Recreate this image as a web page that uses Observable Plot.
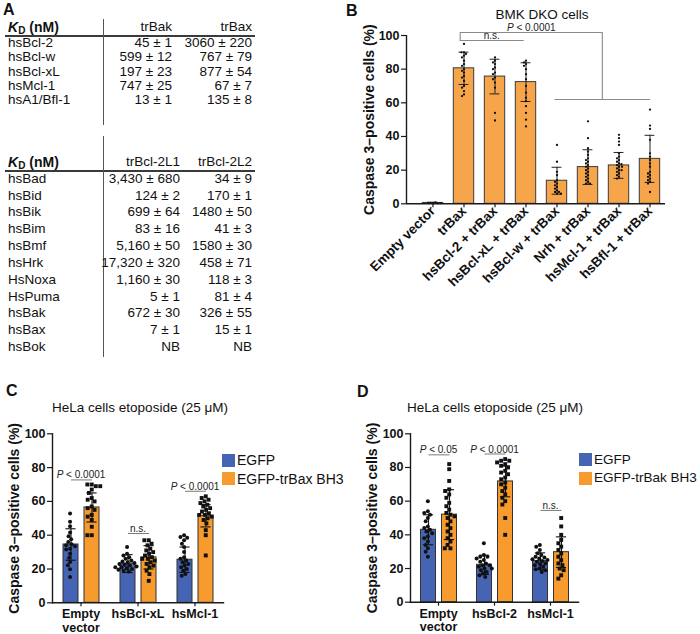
<!DOCTYPE html>
<html><head><meta charset="utf-8">
<script src="https://cdn.jsdelivr.net/npm/d3@7"></script>
<script src="https://cdn.jsdelivr.net/npm/@observablehq/plot@0.6"></script>
<style>
body{margin:0;background:#fff;font-family:"Liberation Sans",Arial,Helvetica,sans-serif;color:#111;}
#root{position:relative;width:700px;height:634px;overflow:hidden;background:#fff;}
.t{position:absolute;white-space:nowrap;}
.ln{position:absolute;background:#3a3a3a;}
svg text{font-family:"Liberation Sans",Arial,Helvetica,sans-serif;}
g[aria-label="y-axis tick label"] text, g[aria-label="fx-axis tick label"] text{font-weight:bold;font-size:12.5px;fill:#111;}
.pB g[aria-label="fx-axis tick label"] text{font-size:13.5px;}
g[aria-label="y-axis label"] text{font-weight:bold;font-size:14px;fill:#111;}
</style></head><body><div id="root"></div>
<script>
// ---------------- DATA ----------------
// Panel A tables
const a1Cols = ["trBak", "trBax"];
const a1Rows = ["hsBcl-2", "hsBcl-w", "hsBcl-xL", "hsMcl-1", "hsA1/Bfl-1"];
const a1Bak = ["45 ± 1", "599 ± 12", "197 ± 23", "747 ± 25", "13 ± 1"];
const a1Bax = ["3060 ± 220", "767 ± 79", "877 ± 54", "67 ± 7", "135 ± 8"];
const a2Cols = ["trBcl-2L1", "trBcl-2L2"];
const a2Rows = ["hsBad", "hsBid", "hsBik", "hsBim", "hsBmf", "hsHrk", "HsNoxa", "HsPuma", "hsBak", "hsBax", "hsBok"];
const a2L1 = ["3,430 ± 680", "124 ± 2", "699 ± 64", "83 ± 16", "5,160 ± 50", "17,320 ± 320", "1,160 ± 30", "5 ± 1", "672 ± 30", "7 ± 1", "NB"];
const a2L2 = ["34 ± 9", "170 ± 1", "1480 ± 50", "41 ± 3", "1580 ± 30", "458 ± 71", "118 ± 3", "81 ± 4", "326 ± 55", "15 ± 1", "NB"];

// Panel B
const bCategories = ["Empty vector", "trBax", "hsBcl-2 + trBax", "hsBcl-xL + trBax", "hsBcl-w + trBax", "Nrh + trBax", "hsMcl-1 + trBax", "hsBfl-1 + trBax"];
const bMeans = [0.5, 80.5, 75.6, 72.3, 13.7, 21.8, 22.8, 26.7];
const bSD = [0.4, 9.6, 10.3, 11.5, 8.0, 10.3, 7.7, 14.0];
const bPoints = [
  [0.2, 0.5, 0.8, 0.3, 0.6, 0.4],
  [95, 90, 90, 89, 88, 87, 85, 83, 82, 80, 79, 78, 76, 75, 73, 70, 69, 67, 65, 64],
  [87, 85, 84, 83, 81, 80, 78, 77, 75, 74, 72, 69, 54, 49.5],
  [85, 84, 83, 82, 80, 77, 74, 70, 66, 63, 61, 58, 54, 50, 46],
  [35, 25, 19, 17, 14, 13, 12, 11, 10, 9, 8, 7, 7, 6, 6],
  [49, 39, 33, 31, 29, 27, 26, 25, 24, 23, 22, 21, 20, 19, 18, 17, 16, 15, 14, 13, 12, 12],
  [41, 39, 37, 35, 30, 28, 27, 26, 25, 24, 23.5, 23, 22, 22, 21, 20, 20, 19, 18, 17, 16, 15],
  [56, 46.5, 44.5, 38, 30, 28, 26, 24, 22, 19, 18, 17, 16, 15, 14, 13, 12, 7]
];
const bTitle = "BMK DKO cells";
const bSigLabels = ["P < 0.0001", "n.s."];
const bSigLevels = [101.8, 97, 62]; // top bracket, n.s. bracket, lower bracket (in % units)

// Panel C
const cGroups = ["Empty\nvector", "hsBcl-xL", "hsMcl-1"];
const cSeries = ["EGFP", "EGFP-trBax BH3"];
const cMeansA = [34.5, 23.2, 25.5];
const cMeansB = [56.4, 26.9, 51.5];
const cSDA = [9.3, 5.3, 7.5];
const cSDB = [8.6, 6.9, 6.6];
const cPtsA = [
  [52.9, 47.9, 45.3, 41.6, 39.4, 37.6, 36, 34.7, 34, 33.5, 32, 31.5, 29, 26.7, 24.2, 22.2, 19.8, 15.2],
  [33, 29, 28, 27, 26, 25, 24.5, 24, 23.5, 23, 22.5, 22, 21.5, 21, 20.5, 20, 19.5, 19, 18.5, 21],
  [40, 39, 38.5, 37, 35, 33, 30, 27, 26, 25, 24, 23, 22, 21, 20, 19, 17, 16]
];
const cPtsB = [
  [70, 70, 69, 69, 67, 65, 62, 61, 60, 57, 56, 55, 52, 51, 49, 45, 40, 40],
  [37, 37, 35, 34, 32, 31, 30, 29, 28, 27, 26, 26, 25, 24, 23, 22, 21, 19, 17, 13],
  [63, 62, 61, 60, 59, 58, 57, 56, 55, 54, 53, 52, 52, 51, 50, 49, 47, 43, 40, 28]
];
const cSigLabels = ["P < 0.0001", "n.s.", "P < 0.0001"];
const cSigLevels = [72.7, 41, 66];
const cTitle = "HeLa cells etoposide (25 μM)";

// Panel D
const dGroups = ["Empty\nvector", "hsBcl-2", "hsMcl-1"];
const dSeries = ["EGFP", "EGFP-trBak BH3"];
const dMeansA = [43, 22.2, 24.4];
const dMeansB = [52, 71.7, 29.7];
const dSDA = [8.9, 5.7, 4.9];
const dSDB = [14.8, 9.1, 9.1];
const dPtsA = [
  [60, 54, 53, 52, 50, 48, 45, 44, 43, 42, 41, 39, 38, 36, 34, 32, 30, 27],
  [35, 28, 27, 27, 26, 25, 24, 23, 22, 22, 21, 20, 20, 19, 18, 17, 16, 15],
  [34, 33, 31, 29, 28, 27, 26.5, 26, 25.5, 25, 24.5, 24, 23, 22.5, 22, 21, 20, 19.5, 19, 18]
];
const dPtsB = [
  [82, 79, 72, 67, 66, 64, 62, 59, 57, 55, 53, 52, 51, 50, 48, 46, 44, 42, 40, 38, 36, 34, 32, 32],
  [85, 84, 84, 83, 82, 81, 80, 78, 77, 76, 74, 73, 71, 70, 68, 66, 64, 62, 60, 58, 50, 40],
  [50, 45, 40, 37, 35, 33, 31, 29, 27, 25, 23, 22, 20, 19, 16, 14]
];
const dSigLabels = ["P < 0.05", "P < 0.0001", "n.s."];
const dSigLevels = [87.5, 88, 54.5];
const dTitle = "HeLa cells etoposide (25 μM)";

const yTicks = [0, 20, 40, 60, 80, 100];
const yLabel = "Caspase 3–positive cells (%)";

// ---------------- STYLE ----------------
const BLUE = "#4664b4", ORANGE = "#f89b2e", ORANGE_B = "#f6a54b";
const AXIS = "#1a1a1a";
const plotStyle = {background: "transparent", fontFamily: '"Liberation Sans", Arial, sans-serif', fontSize: "12px", overflow: "visible", color: "#111"};

const root = document.getElementById("root");
function put(el, left, top, cls) {
  el.style.position = "absolute"; el.style.left = left + "px"; el.style.top = top + "px";
  if (cls) el.classList.add(cls);
  root.appendChild(el); return el;
}
function txt(s, {left, right, cy, size = 13.5, weight = "normal", lh = 12}) {
  const d = document.createElement("div");
  d.className = "t"; d.textContent = s;
  d.style.fontSize = size + "px"; d.style.fontWeight = weight;
  d.style.lineHeight = lh + "px"; d.style.height = lh + "px";
  d.style.top = (cy - lh / 2) + "px";
  if (right != null) { d.style.right = (700 - right) + "px"; d.style.textAlign = "right"; }
  else d.style.left = left + "px";
  root.appendChild(d); return d;
}
function centerTxt(s, {cx, cy, size, weight = "normal"}) {
  const d = document.createElement("div");
  d.className = "t"; d.textContent = s;
  d.style.fontSize = size + "px"; d.style.fontWeight = weight;
  d.style.lineHeight = "16px"; d.style.width = "300px"; d.style.textAlign = "center";
  d.style.left = (cx - 150) + "px"; d.style.top = (cy - 8) + "px";
  root.appendChild(d); return d;
}
function line(left, top, w, h, color) {
  const d = document.createElement("div"); d.className = "ln";
  Object.assign(d.style, {left: left + "px", top: top + "px", width: w + "px", height: h + "px"});
  if (color) d.style.background = color;
  root.appendChild(d);
}
function kdHeader(cy) {
  const d = document.createElement("div");
  d.className = "t"; d.style.left = "8px"; d.style.top = (cy - 6) + "px";
  d.style.lineHeight = "12px"; d.style.height = "12px"; d.style.fontSize = "14px"; d.style.fontWeight = "bold";
  const k = document.createElement("i"); k.textContent = "K";
  const sub = document.createElement("span"); sub.textContent = "D";
  sub.style.fontSize = "10px"; sub.style.lineHeight = "8px"; sub.style.verticalAlign = "-2px";
  d.append(k, sub, document.createTextNode(" (nM)"));
  root.appendChild(d);
}

// ---------------- PANEL LETTERS ----------------
txt("A", {left: 3, cy: 9.5, size: 16, weight: "bold", lh: 16});
txt("B", {left: 346, cy: 10.5, size: 16, weight: "bold", lh: 16});
txt("C", {left: 6, cy: 390.5, size: 16, weight: "bold", lh: 16});
txt("D", {left: 357, cy: 392, size: 16, weight: "bold", lh: 16});

// ---------------- PANEL A ----------------
function table(rows, cols, v1, v2, o) {
  kdHeader(o.headY);
  txt(cols[0], {right: o.c1, cy: o.headY, size: 13.5});
  txt(cols[1], {right: o.c2, cy: o.headY, size: 13.5});
  line(5, o.lineY, 250, 2);
  line(103, o.vTop, 1.3, o.vBot - o.vTop, "#555");
  rows.forEach((r, i) => {
    const cy = o.row0 + i * o.step;
    txt(r, {left: 8, cy});
    txt(v1[i], {right: o.c1, cy});
    txt(v2[i], {right: o.c2, cy});
  });
}
table(a1Rows, a1Cols, a1Bak, a1Bax, {headY: 27.2, lineY: 34.5, row0: 43, step: 14.3, c1: 172, c2: 252, vTop: 19, vBot: 125});
table(a2Rows, a2Cols, a2L1, a2L2, {headY: 161.8, lineY: 170, row0: 178.8, step: 16.83, c1: 180, c2: 252, vTop: 136, vBot: 357});

// ---------------- PANEL B ----------------
const bW = 360, bH = 300, bML = 66, bMR = 35, bMT = 35, bMB = 300 - 203.3;
const bPadOuter = 0.1;
const bStats = bCategories.map((c, i) => ({c, m: bMeans[i], lo: Math.max(0, bMeans[i] - bSD[i]), hi: bMeans[i] + bSD[i]}));
const bDots = bCategories.flatMap((c, i) => bPoints[i].map(v => ({c, v})));
const bFrameW = bW - bML - bMR;
const bStep = bFrameW / (bCategories.length + 2 * bPadOuter);
const bBarInset = bStep * 0.168;
const bCapInset = bStep * 0.335;

const bMain = Plot.plot({
  width: bW, height: bH, marginLeft: bML, marginRight: bMR, marginTop: bMT, marginBottom: bMB,
  style: plotStyle,
  fx: {domain: bCategories, paddingInner: 0, paddingOuter: bPadOuter, align: 1, axis: null, label: null},
  y: {domain: [0, 100], axis: null},
  marks: [
    Plot.barY(bStats, {fx: "c", y: "m", fill: ORANGE_B, stroke: "#3a3a3a", strokeWidth: 1, insetLeft: bBarInset, insetRight: bBarInset}),
    Plot.ruleX(bStats, {fx: "c", x: null, y1: "lo", y2: "hi", stroke: "#222", strokeWidth: 1}),
    Plot.tickY(bStats, {fx: "c", y: "hi", stroke: "#222", strokeWidth: 1, insetLeft: bCapInset, insetRight: bCapInset}),
    Plot.tickY(bStats.filter(d => d.lo > 1), {fx: "c", y: "lo", stroke: "#222", strokeWidth: 1, insetLeft: bCapInset, insetRight: bCapInset}),
    Plot.dot(bDots, Plot.dodgeX({anchor: "middle", padding: 0.3, fx: "c", y: "v", r: 1.15, fill: "#111", stroke: "none"})),
    Plot.axisFx({anchor: "bottom", tickRotate: -45, tickSize: 4, tickPadding: 1, label: null, stroke: AXIS, strokeWidth: 1.2})
  ]
});
put(bMain, 340, 0, "pB");

const pos = c => bCategories.indexOf(c) + 0.5;
const bMid = (pos("hsBcl-w + trBax") + pos("hsBfl-1 + trBax")) / 2;
const bLines = [
  {s: 0, x: pos("trBax"), y: bSigLevels[1]}, {s: 0, x: pos("trBax"), y: bSigLevels[0]},
  {s: 0, x: bMid, y: bSigLevels[0]}, {s: 0, x: bMid, y: bSigLevels[2]},
  {s: 1, x: pos("trBax"), y: bSigLevels[1]}, {s: 1, x: pos("hsBcl-xL + trBax"), y: bSigLevels[1]},
  {s: 2, x: pos("hsBcl-w + trBax"), y: bSigLevels[2]}, {s: 2, x: pos("hsBfl-1 + trBax"), y: bSigLevels[2]}
];
const bTexts = [
  {x: (pos("trBax") + bMid) / 2, y: bSigLevels[0], t: bSigLabels[0]},
  {x: (pos("trBax") + pos("hsBcl-xL + trBax")) / 2, y: bSigLevels[1], t: bSigLabels[1]}
];
const bOver = Plot.plot({
  width: bW, height: bH, marginLeft: bML, marginRight: bMR, marginTop: bMT, marginBottom: bMB,
  style: {...plotStyle, pointerEvents: "none"},
  x: {type: "linear", domain: [-2 * bPadOuter, bCategories.length], axis: null},
  y: {domain: [0, 100], axis: null},
  marks: [
    Plot.ruleY([0], {stroke: AXIS, strokeWidth: 1.4}),
    Plot.ruleX([-2 * bPadOuter], {stroke: AXIS, strokeWidth: 1.4}),
    Plot.axisY({ticks: yTicks, tickSize: 5, tickPadding: 2, stroke: AXIS, strokeWidth: 1.2, label: yLabel, labelAnchor: "center", labelOffset: 42, labelArrow: "none"}),
    Plot.line(bLines, {x: "x", y: "y", z: "s", stroke: "#8a8a8a", strokeWidth: 1.1}),
    Plot.text(bTexts, {x: "x", y: "y", text: "t", lineAnchor: "bottom", dy: -1.5, fontSize: 10, fill: "#222"})
  ]
});
put(bOver, 340, 0, "pB");
centerTxt(bTitle, {cx: 542, cy: 15, size: 13.5});

// ---------------- PANELS C & D ----------------
function grouped(o) {
  const bars = [], dotsA = [], dotsB = [];
  o.groups.forEach((g, i) => {
    bars.push({g, s: o.series[0], m: o.meansA[i], sd: o.sdA[i]});
    bars.push({g, s: o.series[1], m: o.meansB[i], sd: o.sdB[i]});
    o.ptsA[i].forEach(v => dotsA.push({g, v}));
    o.ptsB[i].forEach(v => dotsB.push({g, v}));
  });
  const sig = o.groups.map((g, i) => ({g, t: o.sigLabels[i], y: o.sigLevels[i]}));
  const frameW = o.width - o.ml - o.mr;
  const fxStep = frameW / (o.groups.length + 2 * o.fxPadOuter);
  const xPi = 0.30, xPo = 0.464;
  const xStep = fxStep / (2 - xPi + 2 * xPo);
  const xBw = xStep * (1 - xPi);
  const off = xStep / 2;
  const corr = xBw / 2; // dot transform is offset by half the band width of the x scale
  const capInset = xBw * 0.16;
  const color = s => s === o.series[0] ? BLUE : ORANGE;
  const p = Plot.plot({
    width: o.width, height: o.height, marginLeft: o.ml, marginRight: o.mr, marginTop: o.mt, marginBottom: o.mb,
    style: plotStyle,
    fx: {domain: o.groups, paddingInner: 0, paddingOuter: o.fxPadOuter, align: o.fxAlign, axis: null, label: null},
    x: {domain: o.series, paddingInner: xPi, paddingOuter: xPo, axis: null},
    y: {domain: [0, 100], axis: null},
    marks: [
      Plot.barY(bars, {fx: "g", x: "s", y: "m", fill: d => color(d.s), stroke: "#333", strokeWidth: 1}),
      Plot.ruleX(bars, {fx: "g", x: "s", y1: d => d.m - d.sd, y2: d => d.m + d.sd, stroke: "#111", strokeWidth: 1.1}),
      Plot.tickY(bars, {fx: "g", x: "s", y: d => d.m + d.sd, stroke: "#111", strokeWidth: 1.1, insetLeft: capInset, insetRight: capInset}),
      Plot.tickY(bars, {fx: "g", x: "s", y: d => d.m - d.sd, stroke: "#111", strokeWidth: 1.1, insetLeft: capInset, insetRight: capInset}),
      Plot.dot(dotsA, Plot.dodgeX({anchor: "middle", padding: 0, fx: "g", y: "v", r: 2, fill: "#111", stroke: "none", symbol: "circle", dx: -off - corr})),
      Plot.dot(dotsB, Plot.dodgeX({anchor: "middle", padding: 0, fx: "g", y: "v", r: 2.2, fill: "#111", stroke: "none", symbol: "square", dx: off - corr})),
      Plot.frame({anchor: "bottom", facet: "super", stroke: AXIS, strokeWidth: 1.4}),
      Plot.frame({anchor: "left", facet: "super", stroke: AXIS, strokeWidth: 1.4}),
      Plot.axisY({ticks: yTicks, tickSize: 5, tickPadding: 2, stroke: AXIS, strokeWidth: 1.2, label: yLabel, labelAnchor: "center", labelOffset: o.labelOffset, labelArrow: "none"}),
      Plot.axisFx({anchor: "bottom", tickSize: 4, tickPadding: 2, label: null, lineHeight: 1.08, stroke: AXIS, strokeWidth: 1.2}),
      Plot.link(sig, {fx: "g", x1: () => o.series[0], x2: () => o.series[1], y1: "y", y2: "y", stroke: "#7a7a7a", strokeWidth: 1}),
      Plot.text(sig, {fx: "g", y: "y", text: "t", lineAnchor: "bottom", dy: -1.5, fontSize: 10, fill: "#222"})
    ]
  });
  put(p, o.left, o.top);
  centerTxt(o.title, {cx: o.titleX, cy: 408, size: 13.5});
  // legend
  o.series.forEach((s, i) => {
    const sw = document.createElement("div");
    Object.assign(sw.style, {position: "absolute", left: o.legX + "px", top: (o.legY + i * 18.5 - 6.5) + "px", width: "13px", height: "13px", background: color(s)});
    root.appendChild(sw);
    txt(s, {left: o.legX + 15, cy: o.legY + i * 18.5, size: o.legSize, lh: 16});
  });
}

grouped({groups: cGroups, series: cSeries, meansA: cMeansA, meansB: cMeansB, sdA: cSDA, sdB: cSDB, ptsA: cPtsA, ptsB: cPtsB,
  sigLabels: cSigLabels, sigLevels: cSigLevels, title: cTitle, titleX: 140,
  left: 0, top: 398, width: 230, height: 236, ml: 52, mr: 7, mt: 35.3, mb: 31.7, fxPadOuter: 0, fxAlign: 0.5,
  labelOffset: 43, legX: 222, legY: 460, legSize: 14});
grouped({groups: dGroups, series: dSeries, meansA: dMeansA, meansB: dMeansB, sdA: dSDA, sdB: dSDB, ptsA: dPtsA, ptsB: dPtsB,
  sigLabels: dSigLabels, sigLevels: dSigLevels, title: dTitle, titleX: 495,
  left: 350, top: 398, width: 350, height: 236, ml: 59.5, mr: 111, mt: 35.3, mb: 32.3, fxPadOuter: 0.1, fxAlign: 0,
  labelOffset: 43, legX: 579, legY: 459.5, legSize: 13.5});

// italic "P" in significance labels
document.querySelectorAll("svg text").forEach(el => {
  const s = el.textContent;
  if (el.children.length === 0 && /^P </.test(s)) {
    el.textContent = "";
    const ns = "http://www.w3.org/2000/svg";
    const a = document.createElementNS(ns, "tspan"); a.setAttribute("font-style", "italic"); a.textContent = "P";
    const b = document.createElementNS(ns, "tspan"); b.textContent = s.slice(1);
    el.append(a, b);
  }
});
</script></body></html>
